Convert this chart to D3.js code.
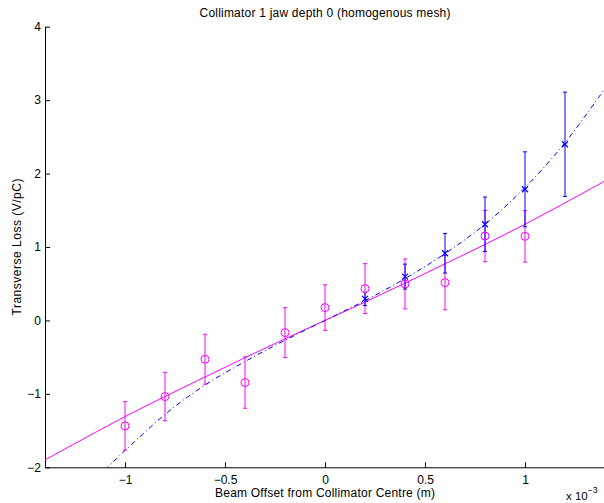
<!DOCTYPE html>
<html>
<head>
<meta charset="utf-8">
<script src="https://cdn.jsdelivr.net/npm/d3@7"></script>
<style>
  body { margin: 0; background: #fff; }
  svg { display: block; font-family: 'Liberation Sans', Arial, sans-serif; }
</style>
</head>
<body>
<svg width="604" height="503"></svg>
<script>
/* global d3 */
// offsets are in units of 1e-3 m
var magentaX = [-1, -0.8, -0.6, -0.4, -0.2, 0, 0.2, 0.4, 0.6, 0.8, 1.0]
var magentaY = [-1.436, -1.037, -0.529, -0.846, -0.166, 0.175, 0.433, 0.497, 0.515, 1.150, 1.145]
var magentaErr = [0.33, 0.33, 0.34, 0.35, 0.34, 0.31, 0.34, 0.34, 0.37, 0.35, 0.35]

var blueX = [0.2, 0.4, 0.6, 0.8, 1.0, 1.2]
var blueY = [0.293, 0.597, 0.915, 1.310, 1.786, 2.399]
var blueErr = [0.09, 0.17, 0.27, 0.37, 0.51, 0.71]

// fitted curves
var magentaFitX = [-1.4, -1.0, -0.6, -0.2, 0.2, 0.6, 1.0, 1.4]
var magentaFitY = [-1.90, -1.31, -0.77, -0.25, 0.25, 0.77, 1.31, 1.90]
var blueFitX = [-1.1, -0.8, -0.6, -0.4, -0.2, 0, 0.2, 0.4, 0.6, 0.8, 1.0, 1.2, 1.4]
var blueFitY = [-2.03, -1.28, -0.88, -0.56, -0.27, 0, 0.27, 0.57, 0.91, 1.31, 1.81, 2.42, 3.16]

var xTicks = [-1, -0.5, 0, 0.5, 1]
var yTicks = [-2, -1, 0, 1, 2, 3, 4]

var magentaC = '#ff00ff'
var blueC = '#0000ff'

var svg = d3.select('svg')
var margin = { left: 45, right: 605, top: 26.7, bottom: 467.3 }

var x = d3.scaleLinear().domain([-1.4, 1.4]).range([margin.left, margin.right])
var y = d3.scaleLinear().domain([-2, 4]).range([margin.bottom, margin.top])

svg.append('defs').append('clipPath')
    .attr('id', 'plot')
  .append('rect')
    .attr('x', margin.left)
    .attr('y', margin.top)
    .attr('width', margin.right - margin.left)
    .attr('height', margin.bottom - margin.top)

var minus = d => d3.format('')(d).replace('-', '\u2212')

// axes, ticks pointing inwards like matlab
svg.append('g')
    .attr('transform', 'translate(0,' + margin.bottom + ')')
    .call(d3.axisBottom(x).tickValues(xTicks).tickSizeInner(-5).tickSizeOuter(0)
      .tickPadding(8).tickFormat(minus))
svg.append('g')
    .attr('transform', 'translate(' + margin.left + ',0)')
    .call(d3.axisLeft(y).tickValues(yTicks).tickSizeInner(-5).tickSizeOuter(0)
      .tickPadding(4).tickFormat(minus))

svg.selectAll('.domain').attr('stroke', '#000').attr('stroke-width', 1)
svg.selectAll('.tick line').attr('stroke', '#000')
svg.selectAll('.tick text').attr('font-size', 12).attr('fill', '#000')
  .attr('font-family', 'Liberation Sans, Arial, sans-serif')

var plot = svg.append('g').attr('clip-path', 'url(#plot)')

var line = d3.line()
    .x(d => x(d[0]))
    .y(d => y(d[1]))
    .curve(d3.curveCatmullRom)

plot.append('path')
    .datum(d3.zip(magentaFitX, magentaFitY))
    .attr('d', line)
    .attr('fill', 'none')
    .attr('stroke', magentaC)
    .attr('stroke-width', 1)

plot.append('path')
    .datum(d3.zip(blueFitX, blueFitY))
    .attr('d', line)
    .attr('fill', 'none')
    .attr('stroke', blueC)
    .attr('stroke-width', 1)
    .attr('stroke-dasharray', '5,3,1,3')

function errorBars (xs, ys, errs, color) {
  var g = plot.append('g')
      .attr('stroke', color)
      .attr('stroke-width', 1)
  var pts = d3.zip(xs, ys, errs)
  g.selectAll('line.bar').data(pts).enter().append('line')
      .attr('class', 'bar')
      .attr('x1', d => x(d[0])).attr('x2', d => x(d[0]))
      .attr('y1', d => y(d[1] - d[2])).attr('y2', d => y(d[1] + d[2]))
  g.selectAll('line.top').data(pts).enter().append('line')
      .attr('class', 'top')
      .attr('x1', d => x(d[0]) - 2).attr('x2', d => x(d[0]) + 2)
      .attr('y1', d => y(d[1] + d[2])).attr('y2', d => y(d[1] + d[2]))
  g.selectAll('line.bot').data(pts).enter().append('line')
      .attr('class', 'bot')
      .attr('x1', d => x(d[0]) - 2).attr('x2', d => x(d[0]) + 2)
      .attr('y1', d => y(d[1] - d[2])).attr('y2', d => y(d[1] - d[2]))
}

errorBars(magentaX, magentaY, magentaErr, magentaC)
errorBars(blueX, blueY, blueErr, blueC)

// circle markers
plot.append('g').selectAll('circle')
    .data(d3.zip(magentaX, magentaY))
    .enter().append('circle')
      .attr('cx', d => x(d[0]))
      .attr('cy', d => y(d[1]))
      .attr('r', 4)
      .attr('fill', 'none')
      .attr('stroke', magentaC)
      .attr('stroke-width', 1)

// cross markers
plot.append('g').selectAll('path')
    .data(d3.zip(blueX, blueY))
    .enter().append('path')
      .attr('d', d => {
        var cx = x(d[0]), cy = y(d[1]), s = 3
        return 'M' + (cx - s) + ',' + (cy - s) + 'L' + (cx + s) + ',' + (cy + s) +
          'M' + (cx - s) + ',' + (cy + s) + 'L' + (cx + s) + ',' + (cy - s)
      })
      .attr('stroke', blueC)
      .attr('stroke-width', 1.2)

// texts
svg.append('text')
    .attr('x', 325)
    .attr('y', 17)
    .attr('text-anchor', 'middle')
    .attr('font-size', 12)
    .attr('textLength', 251)
    .attr('lengthAdjust', 'spacing')
    .text('Collimator 1 jaw depth 0 (homogenous mesh)')

svg.append('text')
    .attr('x', 325)
    .attr('y', 497)
    .attr('text-anchor', 'middle')
    .attr('font-size', 12)
    .attr('textLength', 220)
    .attr('lengthAdjust', 'spacing')
    .text('Beam Offset from Collimator Centre (m)')

svg.append('text')
    .attr('transform', 'translate(21,' + ((margin.top + margin.bottom) / 2) + ') rotate(-90)')
    .attr('text-anchor', 'middle')
    .attr('font-size', 12)
    .attr('textLength', 137)
    .attr('lengthAdjust', 'spacing')
    .text('Transverse Loss (V/pC)')

var expo = svg.append('text')
    .attr('x', 566)
    .attr('y', 500)
    .attr('font-size', 11.5)
expo.append('tspan').text('x 10')
expo.append('tspan').attr('dy', -7).attr('font-size', 8.5).text('\u22123')
</script>
</body>
</html>
